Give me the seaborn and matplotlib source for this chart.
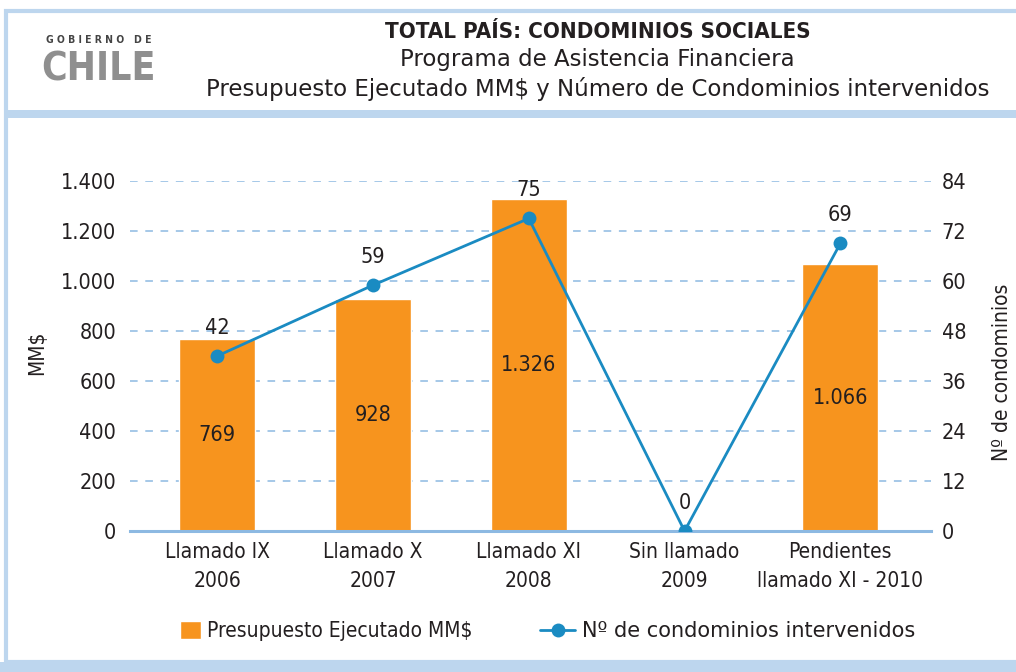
import numpy as np
import pandas as pd
import matplotlib
matplotlib.use("Agg")
import matplotlib.pyplot as plt
from matplotlib.patches import Rectangle
from matplotlib.lines import Line2D
from matplotlib.ticker import FuncFormatter, FixedLocator
import seaborn as sns

categories = ["Llamado IX\n2006", "Llamado X\n2007", "Llamado XI\n2008",
              "Sin llamado\n2009", "Pendientes\nllamado XI - 2010"]
presupuesto = [769, 928, 1326, 0, 1066]
condominios = [42, 59, 75, 0, 69]
left_ticks = [0, 200, 400, 600, 800, 1000, 1200, 1400]
right_ticks = [0, 12, 24, 36, 48, 60, 72, 84]

ORANGE = "#F7941E"
BLUE = "#1A8BC2"
GRID = "#8DB9E2"
FRAME = "#BDD6EE"
TXT = "#231F20"

sns.set_theme(style="white")
plt.rcParams['font.family'] = ['DejaVu Sans']
plt.rcParams['font.stretch'] = 'condensed'

df = pd.DataFrame({"cat": categories, "pres": presupuesto, "cond": condominios})

fig = plt.figure(figsize=(10.16, 6.72), dpi=100)
ax = fig.add_axes([0.128, 0.2098, 0.788, 0.5209])

sns.barplot(data=df, x="cat", y="pres", color=ORANGE, saturation=1, width=0.49, ax=ax)

def fmt(v, pos=None):
    return f"{int(v):,}".replace(",", ".")

ax.set_ylim(0, 1400)
ax.set_xlim(-0.56, 4.58)
ax.yaxis.set_major_locator(FixedLocator(left_ticks))
ax.yaxis.set_major_formatter(FuncFormatter(fmt))
ax.grid(axis="y", color=GRID, linestyle=(0, (5, 5)), linewidth=1.1)
ax.set_axisbelow(True)
for s in ["top", "right", "left"]:
    ax.spines[s].set_visible(False)
ax.spines["bottom"].set_color(GRID)
ax.spines["bottom"].set_linewidth(2.2)
ax.set_xlabel("")
ax.set_ylabel("MM$", fontsize=15, color=TXT)
ax.yaxis.set_label_coords(-0.104, 0.509)
ax.tick_params(axis="y", length=0, labelsize=15.5, labelcolor=TXT, pad=10)
ax.tick_params(axis="x", length=0, labelsize=15, labelcolor=TXT, pad=8)
ax.set_xticks(range(len(categories)))
ax.set_xticklabels(categories, linespacing=1.55)
ax.set_xticks([0.5, 1.5, 2.5, 3.5], minor=True)
ax.tick_params(axis="x", which="minor", length=9, width=1.5, color=GRID, direction="out")

labels = [fmt(v) if v > 0 else "" for v in presupuesto]
ax.bar_label(ax.containers[0], labels=labels, label_type="center", fontsize=15.5, color=TXT)

ax2 = ax.twinx()
sns.lineplot(x=np.arange(len(categories)), y=condominios, color=BLUE, linewidth=2.0,
             marker="o", markersize=10, markeredgewidth=0, ax=ax2)
ax2.set_ylim(0, 84)
ax2.yaxis.set_major_locator(FixedLocator(right_ticks))
for s in ["top", "right", "left", "bottom"]:
    ax2.spines[s].set_visible(False)
ax2.tick_params(axis="y", length=0, labelsize=15.5, labelcolor=TXT, pad=8)
ax2.set_ylabel("Nº de condominios", fontsize=15, color=TXT)
ax2.yaxis.set_label_coords(1.076, 0.454)
ax2.grid(False)
for i, v in enumerate(condominios):
    ax2.annotate(str(v), (i, v), xytext=(0, 13), textcoords="offset points",
                 ha="center", va="bottom", fontsize=15.5, color=TXT)

# frame
fig.patches.append(Rectangle((0.006, 0.015), 1.2, 0.968, transform=fig.transFigure,
                             fill=False, edgecolor=FRAME, linewidth=3))
fig.patches.append(Rectangle((0.006, 0.824), 1.2, 0.012, transform=fig.transFigure,
                             facecolor=FRAME, edgecolor="none"))
fig.patches.append(Rectangle((0.0, 0.0), 1.2, 0.015, transform=fig.transFigure,
                             facecolor=FRAME, edgecolor="none"))

# header
fig.text(0.588, 0.952, "TOTAL PAÍS: CONDOMINIOS SOCIALES", ha="center", va="center",
         fontsize=16, fontweight="bold", color=TXT)
fig.text(0.588, 0.912, "Programa de Asistencia Financiera", ha="center", va="center",
         fontsize=16.5, color=TXT, fontstretch="normal")
fig.text(0.588, 0.868, "Presupuesto Ejecutado MM$ y Número de Condominios intervenidos",
         ha="center", va="center", fontsize=16.5, color=TXT, fontstretch="normal")
fig.text(0.097, 0.941, "G O B I E R N O   D E", ha="center", va="center",
         fontsize=7.5, color="#444444", fontweight="bold")
fig.text(0.097, 0.897, "CHILE", ha="center", va="center", fontsize=28,
         fontweight="bold", color="#8F8F8F")

# legend (two parts)
h1 = Rectangle((0, 0), 1, 1, facecolor=ORANGE)
h2 = Line2D([0], [0], color=BLUE, linewidth=2.0, marker="o", markersize=10, markeredgewidth=0)
fig.legend([h1], ["Presupuesto Ejecutado MM$"], loc="center left",
           bbox_to_anchor=(180 / 1016, 1 - 631 / 672), frameon=False, fontsize=15,
           handlelength=1.0, handleheight=1.0, handletextpad=0.3,
           borderpad=0, borderaxespad=0, labelcolor=TXT)
leg2 = fig.legend([h2], ["Nº de condominios intervenidos"], loc="center left",
                  bbox_to_anchor=(540 / 1016, 1 - 631 / 672), frameon=False, fontsize=15,
                  handlelength=1.7, handletextpad=0.3,
                  borderpad=0, borderaxespad=0, labelcolor=TXT)
for t in leg2.get_texts():
    t.set_fontstretch("normal")

fig.savefig("out.png", dpi=100)
